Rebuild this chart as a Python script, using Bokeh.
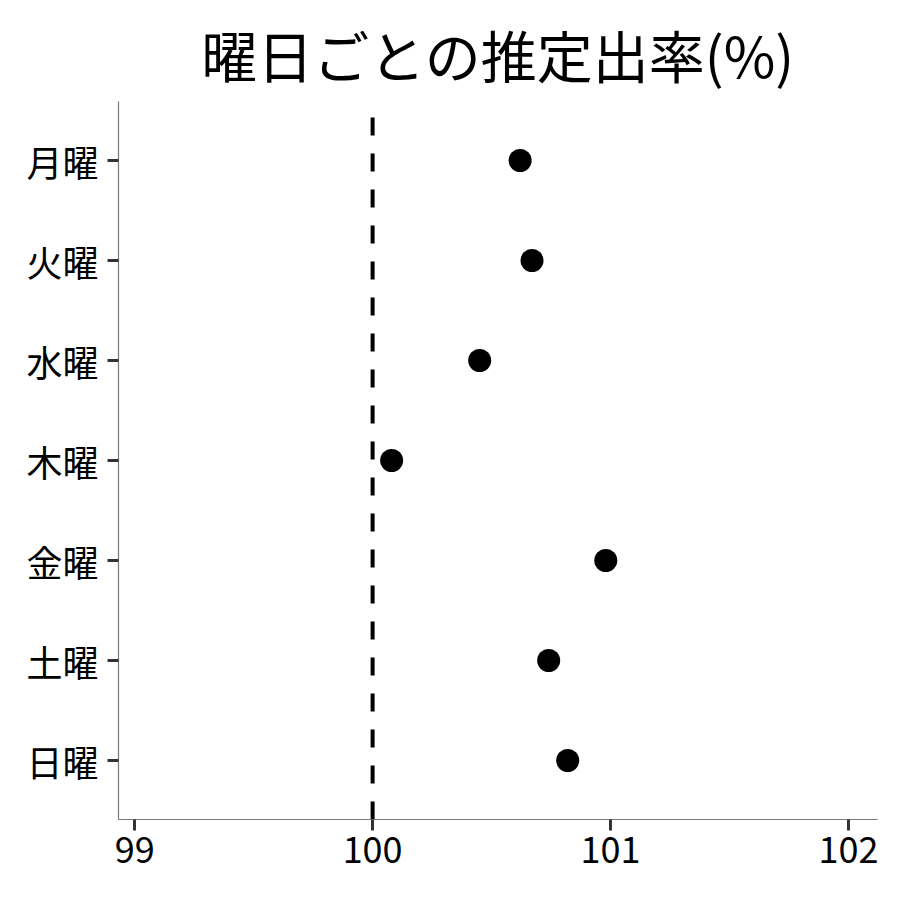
from bokeh.plotting import figure
from bokeh.models import Range1d, FixedTicker, ColumnDataSource
from bokeh.embed import file_html
from bokeh.resources import INLINE

# ---- data ----
days = ["月曜", "火曜", "水曜", "木曜", "金曜", "土曜", "日曜"]
rates = [100.62, 100.67, 100.45, 100.08, 100.98, 100.74, 100.82]
reference_rate = 100
x_ticks = [99, 100, 101, 102]
title_text = "曜日ごとの推定出率(%)"

FONT = "Noto Sans CJK JP"

n = len(days)
ypos = [n - 1 - i for i in range(n)]  # 月曜 at top
y_start, y_end = -0.59, n - 1 + 0.59
x_start, x_end = 98.932, 102.122

src = ColumnDataSource(dict(x=rates, y=ypos, day=days))

p = figure(
    width=892, height=892,
    x_range=Range1d(x_start, x_end),
    y_range=Range1d(y_start, y_end),
    output_backend="svg", toolbar_location=None,
    min_border_left=118, min_border_top=101,
    min_border_right=15, min_border_bottom=73,
)
p.outline_line_color = None
p.grid.visible = False
p.background_fill_color = "white"
p.border_fill_color = "white"

# reference line (drawn from bottom to top)
p.segment(x0=[reference_rate], y0=[y_start], x1=[reference_rate], y1=[y_end],
          line_color="black", line_width=4, line_dash="18 18")

p.scatter("x", "y", source=src, size=23, fill_color="black", line_color=None)

# title
p.title.text = title_text
p.title.align = "center"
p.title.text_font = FONT
p.title.text_font_size = "56px"
p.title.text_font_style = "normal"
p.title.text_color = "black"
p.title.standoff = 16

# axes
for ax in (p.xaxis[0], p.yaxis[0]):
    ax.axis_line_color = "#7a7a7a"
    ax.axis_line_width = 1.2
    ax.major_tick_line_color = "#333333"
    ax.major_tick_line_width = 3
    ax.major_tick_out = 11
    ax.major_tick_in = 0
    ax.minor_tick_line_color = None
    ax.major_label_text_font = FONT
    ax.major_label_text_font_size = "36px"
    ax.major_label_text_color = "black"

p.xaxis.ticker = FixedTicker(ticks=x_ticks)
p.xaxis.major_label_standoff = 6

p.yaxis.ticker = FixedTicker(ticks=ypos)
p.yaxis.major_label_overrides = {y: d for y, d in zip(ypos, days)}
p.yaxis.major_label_standoff = 9

open("out.html", "w").write(file_html(p, INLINE))
